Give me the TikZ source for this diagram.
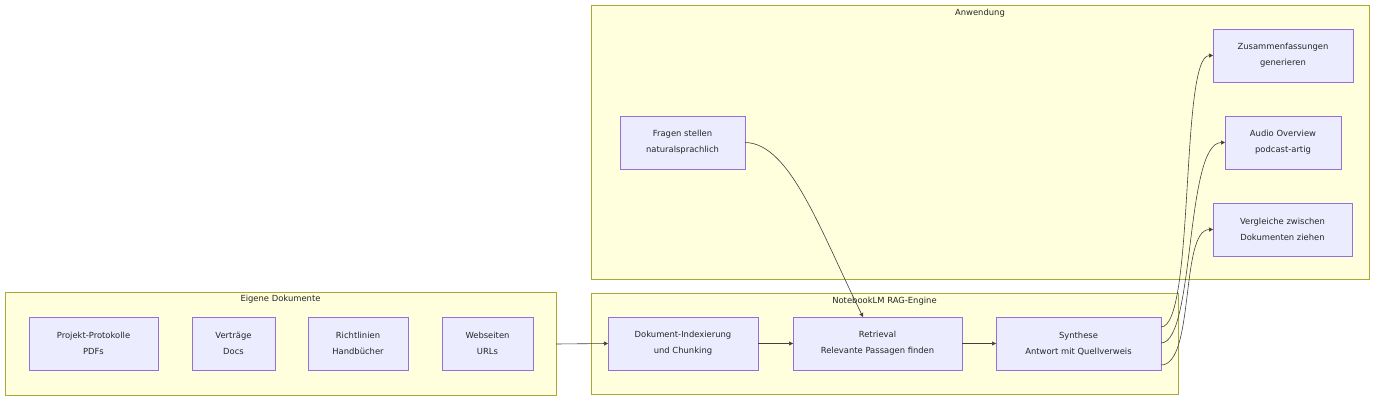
\documentclass[tikz,border=0pt]{standalone}
\usepackage{fontspec}
\setmainfont{DejaVu Sans}
\usetikzlibrary{arrows.meta}
\definecolor{ndf}{HTML}{ECECFF}
\definecolor{nds}{HTML}{9370DB}
\definecolor{clf}{HTML}{FFFFDE}
\definecolor{cls}{HTML}{AAAA33}
\begin{document}
\begin{tikzpicture}[x=1pt,y=-1pt,
  cl/.style={draw=cls, fill=clf, line width=0.6pt},
  nd/.style={draw=nds, fill=ndf, line width=0.6pt},
  tx/.style={align=center, font=\fontsize{8.4}{16}\selectfont, text=black!85},
  tl/.style={font=\fontsize{8.4}{10}\selectfont, text=black!85},
  ar/.style={draw=black!75, line width=0.6pt, -{Triangle[length=4pt,width=4pt]}}]
\useasboundingbox (0,0) rectangle (1384,404);
\draw[cl] (5,292) rectangle (556,395);
\node[tl] (t1) at (280.5,299) {Eigene Dokumente};
\draw[cl] (591,293) rectangle (1178,394);
\node[tl] (t2) at (884.5,301) {NotebookLM RAG-Engine};
\draw[cl] (591,5) rectangle (1369,279);
\node[tl] (t3) at (980,13) {Anwendung};
\newcommand{\bx}[6]{\draw[nd] (#2,#3) rectangle (#4,#5); \node[tx] (#1) at ({(#2+#4)/2},{(#3+#5)/2}) {#6};
 \coordinate (#1W) at (#2,{(#3+#5)/2}); \coordinate (#1E) at (#4,{(#3+#5)/2});}
\bx{a}{29}{317}{158}{370}{Projekt-Protokolle\\PDFs}
\bx{b}{192}{317}{275}{370}{Verträge\\Docs}
\bx{c}{308}{317}{408}{370}{Richtlinien\\Handbücher}
\bx{d}{442}{317}{533}{370}{Webseiten\\URLs}
\bx{e}{608}{317}{758}{370}{Dokument-Indexierung\\und Chunking}
\bx{f}{793}{317}{962}{370}{Retrieval\\Relevante Passagen finden}
\bx{g}{996}{317}{1161}{370}{Synthese\\Antwort mit Quellverweis}
\bx{h}{620}{116}{745}{169}{Fragen stellen\\naturalsprachlich}
\bx{i}{1213}{29}{1353}{82}{Zusammenfassungen\\generieren}
\bx{j}{1225}{116}{1341}{169}{Audio Overview\\podcast-artig}
\bx{k}{1213}{203}{1352}{256}{Vergleiche zwischen\\Dokumenten ziehen}
\coordinate (src) at (556,344);
\coordinate (fT) at (863,317);
\draw[ar] (src) -- (eW);
\draw[ar] (eE) -- (fW);
\draw[ar] (fE) -- (gW);
\draw[ar] (hE) .. controls (790,143) and (820,230) .. (fT);
\coordinate (g1) at (1161,327); \coordinate (g2) at (1161,343); \coordinate (g3) at (1161,365);
\draw[ar] (g1) .. controls (1195,327) and (1180,56) .. (iW);
\draw[ar] (g2) .. controls (1195,343) and (1185,143) .. (jW);
\draw[ar] (g3) .. controls (1195,365) and (1180,230) .. (kW);
\end{tikzpicture}
\end{document}
